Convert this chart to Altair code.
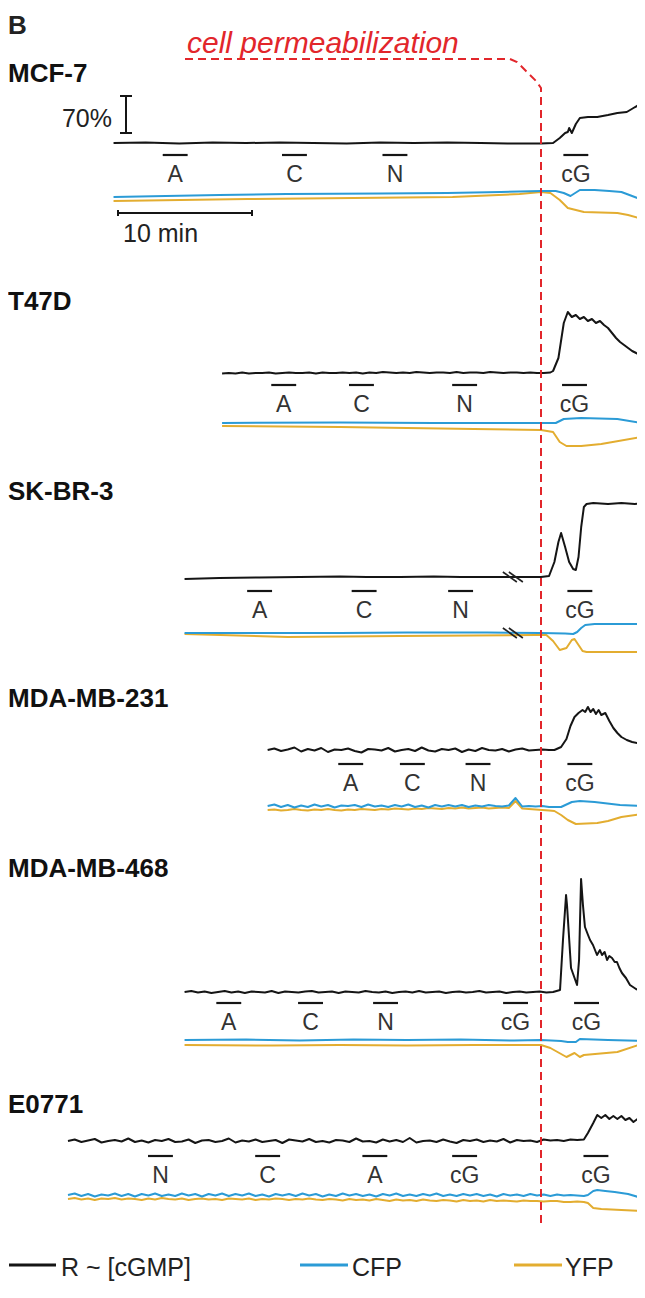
import altair as alt
import pandas as pd

# ------------------------------------------------------------------
# DATA  (time t in minutes relative to cell permeabilization;
#        values v in plot units: 2 units = 1 px of the reference,
#        R = FRET ratio change, CFP / YFP = fluorescence change)
# ------------------------------------------------------------------
PANELS = ["MCF-7", "T47D", "SK-BR-3", "MDA-MB-231", "MDA-MB-468", "E0771"]
NOISE_STEP = 0.5  # sampling of the noisy baseline stretches (min)

# --- MCF-7
mcf7_r_t = [-31.9, -29.5, -27.0, -24.5, -22.0, -19.5, -17.0, -14.5, -12.0, -9.5, -7.0, -4.5, -2.5, -1.0, 0.0,
            0.9, 1.4, 1.8, 2.0, 2.1, 2.3, 2.6, 2.9, 3.5, 4.2, 5.0, 5.7, 6.4, 6.9, 7.3, 7.6]
mcf7_r_v = [0, 1, -1, 1, 0, 1, 0, -1, 1, 0, 1, 0, -1, -1, -1,
            0, 10, 20, 22, 30, 20, 38, 50, 52, 52, 56, 60, 62, 70, 76, 84]
mcf7_cfp_t = [-31.9, -28.0, -24.0, -19.0, -12.0, -7.0, -3.0, 0.0, 1.1, 1.7, 2.2, 2.9, 4.0, 5.1, 6.0, 6.6, 7.6]
mcf7_cfp_v = [0, 2, 4, 6, 7, 8, 10, 12, 12, 8, 2, 14, 14, 12, 10, 4, -6]
mcf7_yfp_t = [-31.9, -21.9, -6.6, -1.6, 0.0, 0.7, 1.4, 2.0, 2.6, 3.2, 5.7, 6.5, 7.6]
mcf7_yfp_v = [-8, -4, 0, 6, 10, 8, -6, -22, -26, -30, -32, -36, -44]

# --- T47D
t47d_r_noise_t0 = -23.8
t47d_r_noise = [-1, 0, -1, 1, -1, 0, 0, 1, -1, 0, 1, 0, 0, 1, -1, 1, 0, 0, 1, 0, 1, -1, 1, 0, 2,
                1, 0, 1, 0, 2, 1, 0, 1, 1, 0, 2, 0, 1, 1, 0, 2, 1, 0, 1, 1, 0, 1, 0, 0, 1]
t47d_r_t = [0.9, 1.3, 1.7, 2.0, 2.3, 2.6, 2.9, 3.2, 3.5, 3.8, 4.1, 4.4, 4.7, 5.0, 5.3, 5.6, 5.9, 6.2, 6.5, 6.8, 7.1, 7.5]
t47d_r_v = [4, 30, 100, 122, 112, 116, 108, 112, 104, 108, 100, 104, 96, 90, 80, 70, 62, 56, 50, 44, 40, 34]
t47d_cfp_t = [-23.8, -15.0, -8.0, 0.0, 1.1, 1.7, 3.0, 5.7, 7.5]
t47d_cfp_v = [0, 1, 0, 0, 0, 8, 10, 8, 0]
t47d_yfp_t = [-23.8, -15.0, -5.0, 0.0, 0.9, 1.4, 1.9, 3.0, 4.5, 7.5]
t47d_yfp_v = [-6, -8, -12, -14, -18, -38, -46, -46, -42, -28]

# --- SK-BR-3 (recording gap marked at t = -2.1)
skbr3_r_t = [-26.6, -24.0, -21.0, -18.0, -15.0, -13.0, -10.5, -8.0, -6.0, -4.0, -2.6, -1.0, 0.0, 0.6, 1.0,
             1.3, 1.5, 1.8, 2.1, 2.4, 2.6, 2.8, 3.0, 3.2, 3.4, 3.9, 5.0, 6.0, 7.0, 7.6]
skbr3_r_v = [-4, -2, -1, 0, 1, 0, 0, 1, 0, 0, 0, 0, 0, 2, 30,
             70, 88, 60, 30, 16, 14, 40, 100, 140, 146, 148, 146, 148, 146, 148]
skbr3_cfp_t = [-26.6, -20.0, -15.0, -10.0, -4.0, 0.0, 1.8, 2.4, 2.7, 3.0, 3.3, 4.0, 7.6]
skbr3_cfp_v = [0, 0, 0, 1, 1, 0, -1, -2, 2, 10, 16, 18, 18]
skbr3_yfp_t = [-26.6, -18.9, -10.5, -0.4, 0.4, 0.9, 1.4, 1.9, 2.3, 2.5, 2.8, 3.1, 3.4, 4.4, 7.6]
skbr3_yfp_v = [-2, -8, -6, -4, -4, -16, -34, -30, -14, -12, -24, -36, -38, -38, -38]
skbr3_break_t = -2.1

# --- MDA-MB-231
mda231_noise_t0 = -20.4
mda231_r_noise = [0, 3, -2, 1, 5, -3, 2, -1, 4, -4, 1, 0, 3, -2, -5, 2, 1, -1, 4, -3, 0, 2,
                  -2, 5, -1, -3, 2, 0, 3, -4, 1, -2, 4, 0, -1, 2, -3, 1, 3, -1, 0, 1, 0]
mda231_r_t = [1.0, 1.5, 1.9, 2.2, 2.5, 2.8, 3.1, 3.3, 3.5, 3.7, 3.9, 4.1, 4.3, 4.5, 4.8, 5.1, 5.4, 5.7, 6.0,
              6.4, 6.8, 7.2, 7.5]
mda231_r_v = [0, 6, 22, 48, 66, 74, 80, 76, 86, 76, 82, 72, 80, 70, 74, 58, 44, 34, 26, 20, 16, 14, 10]
mda231_cfp_noise = [0, 3, -2, 2, -3, 1, -2, 3, -1, 2, -3, 1, 0, 2, -2, 3, -1, 1, -2, 2, -1, 3,
                    -2, 1, -3, 2, -1, 2, -1, 2, -2, 1, -1, 2, 0, -1, 1, 16, -1, 0, -1, 0, -2]
mda231_cfp_t = [1.0, 1.5, 2.3, 2.9, 4.0, 5.9, 7.5]
mda231_cfp_v = [-2, -2, 8, 10, 8, 2, 0]
mda231_yfp_noise = [-8, -7, -9, -8, -6, -8, -9, -7, -8, -6, -8, -9, -7, -8, -6, -7, -8, -6, -7, -5, -6, -7,
                    -5, -6, -4, -5, -6, -4, -5, -3, -5, -4, -3, -5, -4, -3, -4, 10, -5, -6, -7, -8, -9]
mda231_yfp_t = [1.0, 1.5, 2.0, 2.6, 4.2, 5.0, 6.0, 7.5]
mda231_yfp_v = [-10, -18, -28, -36, -34, -30, -22, -16]

# --- MDA-MB-468
mda468_noise_t0 = -26.6
mda468_r_noise = [0, 2, -1, 1, -2, 0, 2, -1, 1, -2, 1, 0, -1, 2, -2, 1, 0, -1, 1, 2, -1, 0, 1, -2, 1, 0, -1, 2,
                  0, -1, 1, -2, 0, 1, -1, 2, -1, 0, 1, -2, 0, 1, -1, 0, 2, -1, 0, 1, -2, 0, 1, -1, 0, 1, -1, 0]
mda468_r_t = [1.42, 1.64, 1.87, 1.94, 2.24, 2.69, 2.84, 2.99, 3.13, 3.28, 3.51, 3.66, 3.88, 4.18, 4.4, 4.55,
              4.75, 4.93, 5.1, 5.3, 5.5, 5.67, 5.85, 6.04, 6.34, 6.64, 7.09, 7.54]
mda468_r_v = [4, 104, 194, 174, 48, 14, 64, 226, 174, 130, 114, 104, 94, 74, 84, 74,
              80, 64, 72, 68, 60, 60, 48, 38, 28, 14, 6, 0]
mda468_cfp_t = [-26.6, -22.0, -18.0, -14.0, -10.0, -6.0, -2.0, 0.0, 1.5, 2.0, 2.6, 2.9, 5.0, 7.5]
mda468_cfp_v = [0, 1, -1, 1, 0, 1, -1, 0, -2, -4, -4, 2, 0, -2]
mda468_yfp_t = [-26.6, -20.0, -15.0, -10.0, -5.0, 0.0, 0.7, 1.9, 2.5, 2.9, 3.2, 5.7, 7.5]
mda468_yfp_v = [-10, -11, -10, -11, -10, -10, -16, -34, -26, -34, -30, -24, -8]

# --- E0771
e0771_noise_t0 = -35.3
e0771_r_noise = [0, 3, -2, 1, 4, -3, 0, 2, -1, 5, -2, 1, -3, 2, 0, 4, -2, -1, 3, -4, 1, 2, -2, 0, 5, -3,
                 1, -1, 3, -2, 0, 2, -4, 3, 1, -1, 4, -2, 0, -3, 2, 1, -2, 5, -1, 0, -3, 3, -1, 2, -2, 6,
                 -3, 0, 1, -2, 3, -1, -4, 2, 0, 3, -2, 1, -1, 4, -3, 2, 0, 1, -2, 3, 1, 2, 0, 3, 2, 3]
e0771_r_t = [3.5, 3.9, 4.2, 4.5, 4.8, 5.1, 5.4, 5.7, 6.0, 6.3, 6.6, 6.9, 7.2, 7.5]
e0771_r_v = [16, 36, 52, 46, 52, 44, 50, 44, 50, 42, 46, 38, 44, 32]
e0771_cfp_noise = [0, 3, -2, 2, -3, 1, -1, 3, -2, 2, -3, 2, -1, 3, -2, 1, -2, 3, -1, 2, -3, 2, -1, 3, -2, 2,
                   -1, 3, -2, 1, -3, 2, -1, 2, -2, 3, -1, 2, -3, 1, -2, 3, -1, 2, -2, 1, -3, 2, -1, 3, -2, 1,
                   -2, 2, -1, 3, -2, 1, -2, 2, -1, 2, -2, 1, -3, 2, -1, 1, -2, 2, -1, 1, -2, 1, -1, 0, -1, -2]
e0771_cfp_t = [3.5, 3.9, 4.2, 4.8, 5.5, 6.5, 7.5]
e0771_cfp_v = [0, 8, 10, 8, 6, 2, -6]
e0771_yfp_noise = [-8, -6, -9, -7, -10, -7, -8, -6, -9, -7, -8, -10, -7, -9, -6, -8, -9, -7, -10, -8, -7, -9,
                   -8, -10, -7, -8, -9, -7, -10, -8, -9, -7, -8, -10, -8, -9, -7, -9, -10, -8, -9, -11, -8,
                   -10, -9, -11, -8, -10, -12, -9, -11, -10, -12, -9, -11, -12, -10, -11, -13, -10, -12, -11,
                   -13, -10, -12, -11, -12, -13, -11, -12, -12, -13, -12, -12, -14, -14, -13, -14]
e0771_yfp_t = [3.5, 3.9, 4.5, 6.0, 7.5]
e0771_yfp_v = [-16, -26, -28, -30, -32]

# --- treatments (label, centre time in min) per panel
treat_mcf7 = [("A", -27.3), ("C", -18.4), ("N", -10.9), ("cG", 2.6)]
treat_t47d = [("A", -19.2), ("C", -13.4), ("N", -5.7), ("cG", 2.5)]
treat_skbr3 = [("A", -21.0), ("C", -13.2), ("N", -6.0), ("cG", 2.9)]
treat_mda231 = [("A", -14.2), ("C", -9.6), ("N", -4.7), ("cG", 2.9)]
treat_mda468 = [("A", -23.3), ("C", -17.2), ("N", -11.6), ("cG", -1.9), ("cG", 3.4)]
treat_e0771 = [("N", -28.4), ("C", -20.4), ("A", -12.4), ("cG", -5.7), ("cG", 4.1)]
TREAT_HALF = 0.93  # half duration of an application bar (min)

LEGEND = ["R ~ [cGMP]", "CFP", "YFP"]
COLORS = {"R": "#151515", "CFP": "#2b9bd6", "YFP": "#e3ad30"}
RED = "#e2262b"

# ------------------------------------------------------------------
# LAYOUT (reference pixel geometry -> scale units, 1:1 with the page)
# ------------------------------------------------------------------
W, H = 629, 1276
TOP, BOTTOM = 8, 8 + H  # reference rows covered by the chart


def X(px):  # reference x pixel -> minutes
    return (px - 541) / 13.4


def Y(py):  # reference y pixel -> plot units
    return 2 * (BOTTOM - py)


# name: (label_y, R baseline, fluorescence baseline, treatment bar y)
LAYOUT = {
    "MCF-7": (72, 143, 197, 155),
    "T47D": (300, 373, 423, 385),
    "SK-BR-3": (490, 577, 633, 591),
    "MDA-MB-231": (697, 750, 806, 764),
    "MDA-MB-468": (867, 992, 1040, 1003),
    "E0771": (1103, 1141, 1195, 1156),
}


def grid(t0, vals):
    return [round(t0 + NOISE_STEP * i, 2) for i in range(len(vals))]


traces = {
    "MCF-7": {"R": (mcf7_r_t, mcf7_r_v), "CFP": (mcf7_cfp_t, mcf7_cfp_v), "YFP": (mcf7_yfp_t, mcf7_yfp_v)},
    "T47D": {"R": (grid(t47d_r_noise_t0, t47d_r_noise) + t47d_r_t, t47d_r_noise + t47d_r_v),
             "CFP": (t47d_cfp_t, t47d_cfp_v), "YFP": (t47d_yfp_t, t47d_yfp_v)},
    "SK-BR-3": {"R": (skbr3_r_t, skbr3_r_v), "CFP": (skbr3_cfp_t, skbr3_cfp_v), "YFP": (skbr3_yfp_t, skbr3_yfp_v)},
    "MDA-MB-231": {"R": (grid(mda231_noise_t0, mda231_r_noise) + mda231_r_t, mda231_r_noise + mda231_r_v),
                   "CFP": (grid(mda231_noise_t0, mda231_cfp_noise) + mda231_cfp_t, mda231_cfp_noise + mda231_cfp_v),
                   "YFP": (grid(mda231_noise_t0, mda231_yfp_noise) + mda231_yfp_t, mda231_yfp_noise + mda231_yfp_v)},
    "MDA-MB-468": {"R": (grid(mda468_noise_t0, mda468_r_noise) + mda468_r_t, mda468_r_noise + mda468_r_v),
                   "CFP": (mda468_cfp_t, mda468_cfp_v), "YFP": (mda468_yfp_t, mda468_yfp_v)},
    "E0771": {"R": (grid(e0771_noise_t0, e0771_r_noise) + e0771_r_t, e0771_r_noise + e0771_r_v),
              "CFP": (grid(e0771_noise_t0, e0771_cfp_noise) + e0771_cfp_t, e0771_cfp_noise + e0771_cfp_v),
              "YFP": (grid(e0771_noise_t0, e0771_yfp_noise) + e0771_yfp_t, e0771_yfp_noise + e0771_yfp_v)},
}
treatments = {"MCF-7": treat_mcf7, "T47D": treat_t47d, "SK-BR-3": treat_skbr3,
              "MDA-MB-231": treat_mda231, "MDA-MB-468": treat_mda468, "E0771": treat_e0771}

rows = []
for p in PANELS:
    _, rb, fb, _ = LAYOUT[p]
    for s, (ts, vs) in traces[p].items():
        base = Y(rb) if s == "R" else Y(fb)
        for i, (t, v) in enumerate(zip(ts, vs)):
            rows.append({"panel": p, "series": s, "i": i, "t": t, "y": base + v})
df = pd.DataFrame(rows)

xs = alt.Scale(domain=[X(8), X(8 + W)], nice=False, zero=False)
ys = alt.Scale(domain=[0, Y(TOP)], nice=False, zero=False)
FONT = "Liberation Sans"


def ex(f="x:Q"):
    return alt.X(f, scale=xs, axis=None)


def ey(f="y:Q"):
    return alt.Y(f, scale=ys, axis=None)


def lines(series, width):
    return alt.Chart(df[df.series == series]).mark_line(
        color=COLORS[series], strokeWidth=width, strokeJoin="round", clip=True
    ).encode(x=alt.X("t:Q", scale=xs, axis=None), y=ey(), detail="panel:N", order="i:Q")


# treatment bars + labels
tr = []
for p in PANELS:
    bar_y = LAYOUT[p][3]
    for lab, tc in treatments[p]:
        tr.append({"label": lab, "x": tc - TREAT_HALF, "x2": tc + TREAT_HALF, "xc": tc,
                   "y": Y(bar_y), "yl": Y(bar_y + 20)})
trdf = pd.DataFrame(tr)
treat_bars = alt.Chart(trdf).mark_rule(color="#151515", strokeWidth=2.2).encode(x=ex(), x2="x2:Q", y=ey())
treat_text = alt.Chart(trdf).mark_text(font=FONT, fontSize=23, color="#333333", baseline="middle",
                                       align="center").encode(x=ex("xc:Q"), y=ey("yl:Q"), text="label:N")

# panel names
pl = pd.DataFrame([{"label": p, "x": X(8), "y": Y(LAYOUT[p][0] + 2)} for p in PANELS])
panel_text = alt.Chart(pl).mark_text(font=FONT, fontSize=26, fontWeight="bold", color="#111111",
                                     align="left", baseline="middle").encode(x=ex(), y=ey(), text="label:N")

# header texts
hb = alt.Chart(pd.DataFrame([{"label": "B", "x": X(8), "y": Y(26)}])).mark_text(
    font=FONT, fontSize=26, fontWeight="bold", color="#222222", align="left", baseline="middle"
).encode(x=ex(), y=ey(), text="label:N")
perm_text = alt.Chart(pd.DataFrame([{"label": "cell permeabilization", "x": X(187), "y": Y(53)}])).mark_text(
    font=FONT, fontSize=30, fontStyle="italic", color=RED, align="left", baseline="alphabetic"
).encode(x=ex(), y=ey(), text="label:N")

# red dashed permeabilization marker
red_path = pd.DataFrame({"i": range(6),
                         "x": [X(185), X(510), X(517), X(536), X(541), X(541)],
                         "y": [Y(59), Y(59), Y(62), Y(81), Y(88), Y(1223)]})
red_line = alt.Chart(red_path).mark_line(color=RED, strokeWidth=2, strokeDash=[8, 5]).encode(
    x=ex(), y=ey(), order="i:Q")

# scale bars: 70 % (vertical) and 10 min (horizontal)
sb = pd.DataFrame([
    {"x": X(126), "x2": X(126), "y": Y(96), "y2": Y(133)},
    {"x": X(120), "x2": X(132), "y": Y(96), "y2": Y(96)},
    {"x": X(120), "x2": X(132), "y": Y(133), "y2": Y(133)},
    {"x": X(118), "x2": X(118) + 10, "y": Y(213), "y2": Y(213)},
    {"x": X(118), "x2": X(118), "y": Y(210), "y2": Y(216)},
    {"x": X(118) + 10, "x2": X(118) + 10, "y": Y(210), "y2": Y(216)},
])
scale_bars = alt.Chart(sb).mark_rule(color="#151515", strokeWidth=2).encode(x=ex(), x2="x2:Q", y=ey(), y2="y2:Q")
sb_text = alt.Chart(pd.DataFrame([
    {"label": "70%", "x": X(112), "y": Y(119)},
])).mark_text(font=FONT, fontSize=25, color="#222222", align="right", baseline="middle").encode(
    x=ex(), y=ey(), text="label:N")
sb_text2 = alt.Chart(pd.DataFrame([
    {"label": "10 min", "x": X(123), "y": Y(234)},
])).mark_text(font=FONT, fontSize=25, color="#222222", align="left", baseline="middle").encode(
    x=ex(), y=ey(), text="label:N")

# recording-gap marks on SK-BR-3
br = []
xb = 541 + skbr3_break_t * 13.4
for base in (LAYOUT["SK-BR-3"][1], LAYOUT["SK-BR-3"][2]):
    for off in (-3, 3):
        br.append({"x": X(xb + off - 7), "x2": X(xb + off + 7), "y": Y(base - 5), "y2": Y(base + 5)})
breaks = alt.Chart(pd.DataFrame(br)).mark_rule(color="#222222", strokeWidth=1.6).encode(
    x=ex(), x2="x2:Q", y=ey(), y2="y2:Q")

# legend
lg = pd.DataFrame([
    {"label": LEGEND[0], "s": "R", "x": X(9), "x2": X(56), "xt": X(61)},
    {"label": LEGEND[1], "s": "CFP", "x": X(300), "x2": X(348), "xt": X(352)},
    {"label": LEGEND[2], "s": "YFP", "x": X(514), "x2": X(562), "xt": X(565)},
])
lg["y"] = Y(1268)
lg["yl"] = Y(1265)
leg_lines = alt.Chart(lg).mark_rule(strokeWidth=3).encode(
    x=ex(), x2="x2:Q", y=ey("yl:Q"),
    color=alt.Color("s:N", scale=alt.Scale(domain=list(COLORS), range=list(COLORS.values())), legend=None))
leg_text = alt.Chart(lg).mark_text(font=FONT, fontSize=25, color="#222222", align="left",
                                   baseline="middle").encode(x=ex("xt:Q"), y=ey(), text="label:N")

chart = alt.layer(
    lines("YFP", 2), lines("CFP", 2), lines("R", 2),
    treat_bars, treat_text, panel_text, hb, perm_text, red_line,
    scale_bars, sb_text, sb_text2, breaks, leg_lines, leg_text,
).properties(
    width=W, height=H, padding=0,
    autosize=alt.AutoSizeParams(type="none"),
    background="white",
).configure_view(stroke=None)

chart.save("out.html", embed_options={"renderer": "svg", "actions": False})
